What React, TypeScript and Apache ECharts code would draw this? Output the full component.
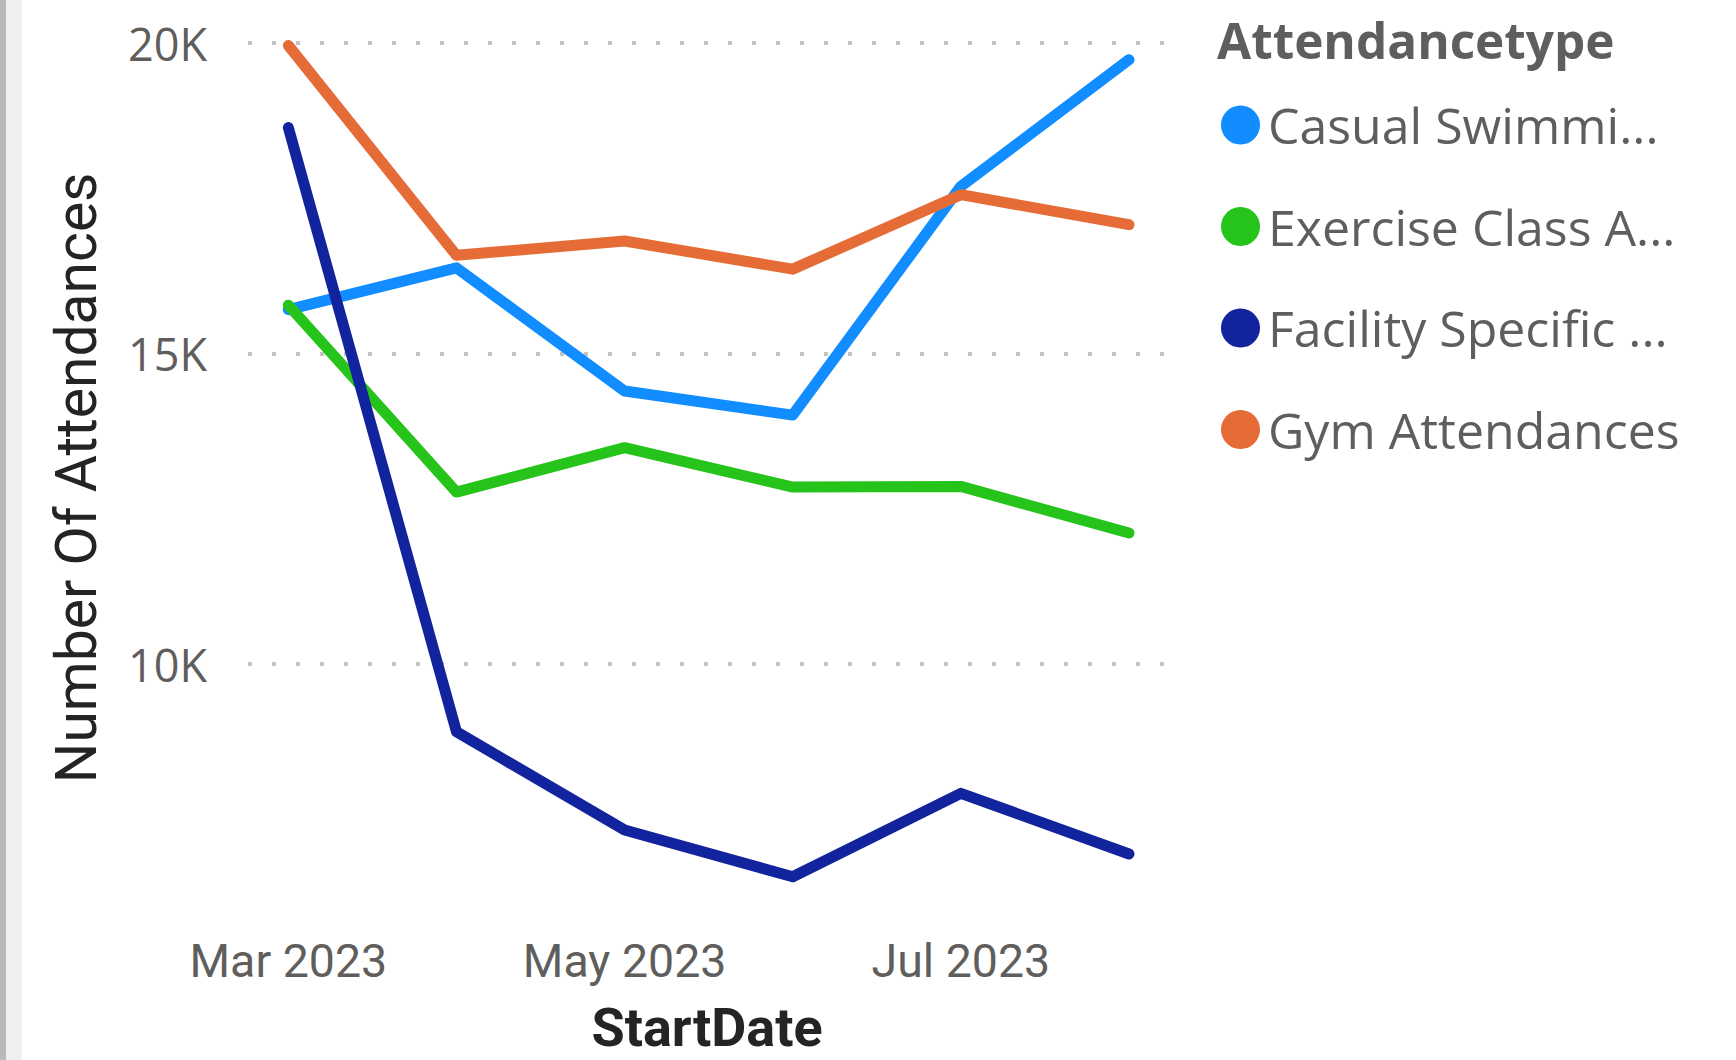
import React, { useEffect, useRef } from "react";
import * as echarts from "echarts";

const months = ["Mar 2023", "Apr 2023", "May 2023", "Jun 2023", "Jul 2023", "Aug 2023"];
const xLabelIndexes = [0, 2, 4];
const yTickValues = [10000, 15000, 20000];
const seriesNames = ["Casual Swimmi...", "Exercise Class A...", "Facility Specific ...", "Gym Attendances"];
const seriesColors = ["#118DFF", "#26C41A", "#12239E", "#E66C37"];

const casualSwimming = [15708, 16380, 14397, 14010, 17692, 19731];
const exerciseClass = [15780, 12771, 13486, 12852, 12862, 12112];
const facilitySpecific = [18638, 8913, 7331, 6579, 7921, 6945];
const gymAttendances = [19960, 16582, 16812, 16360, 17558, 17075];

const allValues = [casualSwimming, exerciseClass, facilitySpecific, gymAttendances];

export default function App() {
  const ref = useRef<HTMLDivElement>(null);

  useEffect(() => {
    if (!ref.current) return;
    const chart = echarts.init(ref.current, undefined, { renderer: "svg" });
    const option: any = {
      animation: false,
      backgroundColor: "#ffffff",
      title: {
        text: "Attendancetype",
        left: 1217,
        top: 15,
        padding: 0,
        textStyle: {
          fontFamily: "'Open Sans'",
          fontWeight: "bold",
          fontSize: 49.5,
          color: "#605E5C",
        },
      },
      legend: {
        orient: "vertical",
        left: 1221,
        top: 100,
        padding: 0,
        itemWidth: 39,
        itemHeight: 39,
        itemGap: 51.5,
        icon: "circle",
        data: seriesNames,
        textStyle: {
          fontFamily: "'Open Sans'",
          fontSize: 50,
          lineHeight: 50,
          color: "#605E5C",
          padding: [0, 0, 0, 3],
        },
      },
      graphic: [
        { type: "rect", left: 0, top: 0, shape: { width: 22, height: 1060 }, style: { fill: "#efefef" }, silent: true },
        { type: "rect", left: 0, top: 0, shape: { width: 6, height: 1060 }, style: { fill: "#b9b9b9" }, silent: true },
      ],
      grid: {
        left: 248,
        right: 570,
        top: 43,
        bottom: 147.3,
        containLabel: false,
        outerBoundsMode: "none",
      },
      xAxis: {
        type: "value",
        min: -0.24,
        max: 5.22,
        name: "StartDate",
        nameLocation: "middle",
        nameGap: 88,
        nameTextStyle: {
          fontFamily: "Roboto",
          fontWeight: "bold",
          fontSize: 54,
          lineHeight: 54,
          color: "#252423",
        },
        axisLine: { show: false },
        axisTick: { show: false, customValues: xLabelIndexes },
        splitLine: { show: false },
        axisLabel: {
          customValues: xLabelIndexes,
          formatter: (v: number) => months[Math.round(v)],
          margin: 25,
          fontFamily: "Roboto",
          fontSize: 46.5,
          color: "#605E5C",
        },
      },
      yAxis: {
        type: "value",
        min: 6000,
        max: 20000,
        name: "Number Of Attendances",
        nameLocation: "middle",
        nameRotate: 90,
        nameGap: 143,
        nameTextStyle: {
          fontFamily: "Roboto",
          fontSize: 57,
          color: "#252423",
        },
        axisLine: { show: false },
        axisTick: { show: false, customValues: yTickValues },
        splitLine: {
          show: true,
          lineStyle: { color: "#c4c4c4", width: 4, type: [4, 20] },
        },
        axisLabel: {
          customValues: yTickValues,
          formatter: (v: number) => `${Math.round(v / 1000)}K`,
          margin: 41,
          fontFamily: "'Open Sans'",
          fontSize: 45,
          color: "#605E5C",
        },
      },
      series: seriesNames.map((name, si) => ({
        name,
        type: "line",
        data: allValues[si].map((v, i) => [i, v]),
        showSymbol: false,
        symbol: "none",
        clip: false,
        color: seriesColors[si],
        lineStyle: { width: 11, color: seriesColors[si], cap: "round", join: "round" },
      })),
    };
    chart.setOption(option);
    return () => chart.dispose();
  }, []);

  return (
    <div
      ref={ref}
      style={{ position: "fixed", left: 0, top: 0, width: 1736, height: 1060, background: "#fff" }}
    />
  );
}
